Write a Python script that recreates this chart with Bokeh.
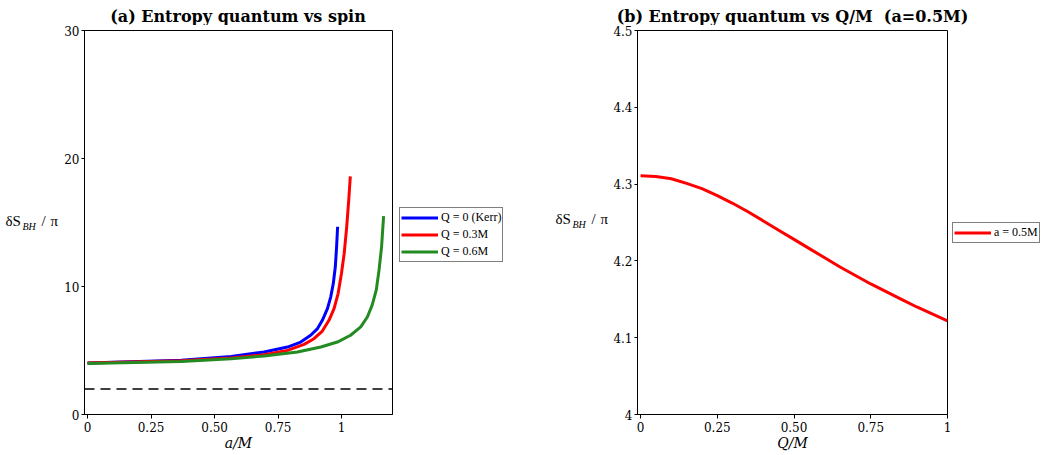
from bokeh.plotting import figure
from bokeh.models import Range1d, FixedTicker, Legend, LegendItem, Label, Span
from bokeh.layouts import row, column
from bokeh.embed import file_html
from bokeh.resources import INLINE

# ---- data ----
a_kerr = [0.0, 0.369, 0.565, 0.695, 0.787, 0.839, 0.878, 0.905, 0.924, 0.944, 0.957, 0.967, 0.975, 0.980, 0.984]
s_kerr = [4.02, 4.23, 4.54, 4.88, 5.27, 5.66, 6.19, 6.71, 7.36, 8.27, 9.19, 10.23, 11.54, 13.1, 14.67]

a_q03 = [0.0, 0.369, 0.565, 0.695, 0.787, 0.852, 0.891, 0.924, 0.950, 0.970, 0.986, 0.999, 1.010, 1.020, 1.028, 1.034]
s_q03 = [4.02, 4.2, 4.41, 4.67, 5.01, 5.48, 5.92, 6.52, 7.36, 8.27, 9.45, 11.0, 12.6, 14.7, 16.8, 18.6]

a_q06 = [0.0, 0.369, 0.565, 0.695, 0.826, 0.918, 0.983, 1.035, 1.075, 1.101, 1.120, 1.136, 1.147, 1.157, 1.165]
s_q06 = [3.99, 4.15, 4.36, 4.57, 4.88, 5.27, 5.66, 6.19, 6.84, 7.62, 8.54, 9.71, 11.28, 13.1, 15.5]

dash_level = 2.0

q_vals = [0.0, 0.05, 0.1, 0.15, 0.2, 0.25, 0.3, 0.35, 0.4, 0.45, 0.5,
          0.55, 0.6, 0.65, 0.7, 0.75, 0.8, 0.85, 0.9, 0.95, 1.0]
s_qm = [4.311, 4.310, 4.307, 4.301, 4.294, 4.285, 4.275, 4.264, 4.252, 4.240, 4.228,
        4.216, 4.204, 4.192, 4.181, 4.170, 4.160, 4.150, 4.140, 4.131, 4.122]

left_labels = ["Q = 0 (Kerr)", "Q = 0.3M", "Q = 0.6M"]
left_colors = ["blue", "red", "#228b22"]
right_labels = ["a = 0.5M"]
right_colors = ["red"]

title_a = "(a) Entropy quantum vs spin"
title_b = "(b) Entropy quantum vs Q/M\u00a0 (a=0.5M)"

left_xticks = [0, 0.25, 0.5, 0.75, 1]
left_xlabels = ["0", "0.25", "0.50", "0.75", "1"]
left_yticks = [0, 10, 20, 30]
left_ylabels = ["0", "10", "20", "30"]
right_xticks = [0, 0.25, 0.5, 0.75, 1]
right_xlabels = ["0", "0.25", "0.50", "0.75", "1"]
right_yticks = [4, 4.1, 4.2, 4.3, 4.4, 4.5]
right_ylabels = ["4", "4.1", "4.2", "4.3", "4.4", "4.5"]

SERIF = "DejaVu Serif"
TIMES = "Liberation Serif"
W = 1054
TH = 25          # title strip height
H = 455 - TH     # plot row height
BT, BB = 5, 41   # top / bottom borders shared by all figures of the row
NAN = float("nan")


def blank(w, h, bt=0, bb=0, yr=None):
    f = figure(width=w, height=h, output_backend="svg", toolbar_location=None,
               x_axis_location=None, y_axis_location=None,
               x_range=Range1d(0, w), y_range=yr if yr is not None else Range1d(0, h),
               min_border=0, min_border_left=0, min_border_right=0,
               min_border_top=bt, min_border_bottom=bb)
    f.xgrid.visible = False
    f.ygrid.visible = False
    f.outline_line_color = None
    f.border_fill_color = "white"
    f.background_fill_color = "white"
    return f


def row_blank(w):
    # frame spans page y 30..414; data y = 455 - page_y
    return blank(w, H, BT, BB, Range1d(455 - (TH + H - BB), 455 - (TH + BT)))


def style(p, xticks, xlabels, yticks, ylabels, xlabel):
    p.xgrid.visible = False
    p.ygrid.visible = False
    p.outline_line_color = "black"
    p.outline_line_width = 1
    p.background_fill_color = "white"
    p.border_fill_color = "white"
    p.xaxis.ticker = FixedTicker(ticks=xticks)
    p.yaxis.ticker = FixedTicker(ticks=yticks)
    p.xaxis.major_label_overrides = {t: l for t, l in zip(xticks, xlabels)}
    p.yaxis.major_label_overrides = {t: l for t, l in zip(yticks, ylabels)}
    for ax in (p.xaxis[0], p.yaxis[0]):
        ax.axis_line_color = "black"
        ax.major_tick_line_color = "black"
        ax.minor_tick_line_color = None
        ax.major_tick_in = 0
        ax.major_tick_out = 4
        ax.major_label_text_font = SERIF
        ax.major_label_text_font_size = "12px"
        ax.major_label_text_color = "black"
        ax.major_label_standoff = 3
    p.yaxis.major_tick_out = 3
    p.yaxis.major_label_standoff = 2
    p.xaxis.axis_label = xlabel
    p.xaxis.axis_label_text_font = SERIF
    p.xaxis.axis_label_text_font_style = "italic"
    p.xaxis.axis_label_text_font_size = "14px"
    p.xaxis.axis_label_text_color = "black"
    p.xaxis.axis_label_standoff = 0


def add_ylabel(f, x0, page_mid):
    y0 = 455 - page_mid
    f.add_layout(Label(x=x0, y=y0, text="\u03b4S", text_font=TIMES, text_font_size="15px",
                       text_baseline="middle", text_color="black"))
    f.add_layout(Label(x=x0 + 17, y=y0 - 5.5, text="BH", text_font=TIMES,
                       text_font_style="italic", text_font_size="10px",
                       text_baseline="middle", text_color="black"))
    f.add_layout(Label(x=x0 + 36, y=y0, text="/", text_font=TIMES, text_font_size="15px",
                       text_baseline="middle", text_color="black"))
    f.add_layout(Label(x=x0 + 45, y=y0, text="\u03c0", text_font=TIMES, text_font_size="15px",
                       text_baseline="middle", text_color="black"))


def make_legend(f, labels, colors, loc):
    items = []
    for lab, col in zip(labels, colors):
        r = f.line(x=[NAN], y=[NAN], line_color=col, line_width=3)
        items.append(LegendItem(label=lab, renderers=[r]))
    lg = Legend(items=items, location=loc)
    lg.border_line_color = "black"
    lg.border_line_width = 1.5
    lg.background_fill_color = "white"
    lg.background_fill_alpha = 1
    lg.padding = 1
    lg.spacing = 0
    lg.margin = 0
    lg.glyph_width = 37
    lg.glyph_height = 17
    lg.label_height = 17
    lg.label_standoff = 3
    lg.label_text_font = TIMES
    lg.label_text_font_size = "12px"
    lg.label_text_color = "black"
    f.add_layout(lg, "center")
    return lg


# ---- title strip ----
tfig = blank(W, TH)
for txt, cx in ((title_a, 237.5), (title_b, 792)):
    tfig.add_layout(Label(x=cx, y=TH - 16, text=txt, text_align="center",
                          text_baseline="middle", text_font=SERIF,
                          text_font_style="bold", text_font_size="16px", text_color="black"))

# ---- left y label ----
ylab1 = row_blank(61)
add_ylabel(ylab1, 5, 220)

# ---- left panel ----
p1 = figure(width=336, height=H, output_backend="svg", toolbar_location=None,
            x_range=Range1d(-0.012, 1.2), y_range=Range1d(0, 30),
            min_border_left=22, min_border_right=5, min_border_top=BT, min_border_bottom=BB)
style(p1, left_xticks, left_xlabels, left_yticks, left_ylabels, "a/M")
p1.add_layout(Span(location=dash_level, dimension="width", line_color="black",
                   line_width=1.5, line_dash="10 6"))
p1.line(a_kerr, s_kerr, line_color=left_colors[0], line_width=3)
p1.line(a_q03, s_q03, line_color=left_colors[1], line_width=3)
p1.line(a_q06, s_q06, line_color=left_colors[2], line_width=3)

# ---- middle strip: left legend + right y label ----
mid = row_blank(213)
make_legend(mid, left_labels, left_colors, (2, 414 - 262))
add_ylabel(mid, 555 - 397, 218)

# ---- right panel ----
p2 = figure(width=341, height=H, output_backend="svg", toolbar_location=None,
            x_range=Range1d(-0.01, 1.0), y_range=Range1d(4, 4.5),
            min_border_left=27, min_border_right=4, min_border_top=BT, min_border_bottom=BB)
style(p2, right_xticks, right_xlabels, right_yticks, right_ylabels, "Q/M")
p2.line(q_vals, s_qm, line_color=right_colors[0], line_width=3)

# ---- right legend strip ----
legfig = row_blank(103)
make_legend(legfig, right_labels, right_colors, (1, 414 - 243))

layout = column(tfig, row(ylab1, p1, mid, p2, legfig))
open("out.html", "w").write(file_html(layout, INLINE))
